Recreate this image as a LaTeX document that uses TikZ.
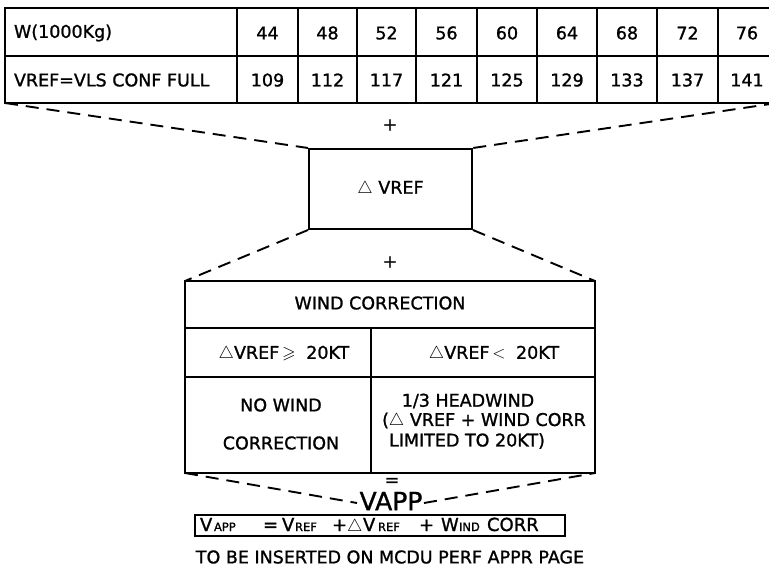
\documentclass[tikz,border=0pt]{standalone}
\usepackage{amssymb}
\usepackage{fontspec}
\setmainfont[FakeBold=1.2]{DejaVu Sans}
\begin{document}
\begin{tikzpicture}[x=1pt,y=-1pt,line width=2pt,
  txt/.style={font=\fontsize{17.5}{20}\selectfont,inner sep=0pt},
  big/.style={font=\fontsize{18}{20}\selectfont,inner sep=0pt,anchor=base west},
  sml/.style={font=\fontsize{11.5}{13}\selectfont,inner sep=0pt,anchor=base west},
  dsh/.style={dash pattern=on 13pt off 8pt,line width=1.9pt}]
\useasboundingbox (0,0) rectangle (769,582);
\begin{scope}
\clip (0,0) rectangle (769,582);
% top table
\coordinate (tbl-nw) at (5,8);
\coordinate (tbl-sw) at (5,103);
\coordinate (tbl-se) at (777,103);
\draw (tbl-nw) rectangle (tbl-se);
\draw (5,56) -- (777,56);
\foreach \x in {237,298,357,416,477,537,597,657,718} \draw (\x,8) -- (\x,103);
\node[txt,anchor=west] (h1) at (13,33) {W(1000Kg)};
\node[txt,anchor=west] (h2) at (13,80) {VREF=VLS CONF FULL};
\foreach \c/\a/\b [count=\i] in {267.5/44/109,327.5/48/112,386.5/52/117,446.5/56/121,507/60/125,567/64/129,627/68/133,687.5/72/137,747/76/141}{
  \node[txt] (w\i) at (\c,33) {\a};
  \node[txt] (v\i) at (\c,80) {\b};
}
% delta vref box
\node[draw,minimum width=163pt,minimum height=80pt,txt] (dv) at (390.5,189) {$\triangle$ VREF};
\node[txt] (plus1) at (390,125) {+};
\node[txt] (plus2) at (390,262) {+};
\draw[dsh] (tbl-sw) -- (dv.north west);
\draw[dsh] (tbl-se) -- (dv.north east);
% wind table
\coordinate (wt-nw) at (185,281);
\coordinate (wt-ne) at (595,281);
\coordinate (wt-sw) at (185,473);
\coordinate (wt-se) at (595,473);
\draw (wt-nw) rectangle (wt-se);
\draw (185,328) -- (595,328);
\draw (185,377) -- (595,377);
\draw (371,328) -- (371,473);
\draw[dsh] (dv.south west) -- (wt-nw);
\draw[dsh] (dv.south east) -- (wt-ne);
\node[txt] (wc) at (380,303) {WIND CORRECTION};
\node[txt] (c1) at (284,354) {$\triangle$VREF\,$\geqslant$\; 20KT};
\node[txt] (c2) at (494,354) {$\triangle$VREF\,$<$\; 20KT};
\node[txt] (n1) at (281,405) {NO WIND};
\node[txt] (n2) at (281,443) {CORRECTION};
\node[txt] (r1) at (468,401) {1/3 HEADWIND};
\node[txt] (r2) at (484,421) {($\triangle$ VREF + WIND CORR};
\node[txt] (r3) at (467,441) {LIMITED TO 20KT)};
% result
\node[txt] (eq) at (392,482) {=};
\node[font=\fontsize{25}{28}\selectfont,inner sep=0pt] (vapp) at (391,501) {VAPP};
\coordinate (vapp-l) at (357,503);
\coordinate (vapp-r) at (424,503);
\draw[dsh] (wt-sw) -- (vapp-l);
\draw[dsh] (vapp-r) -- (wt-se);
% formula
\draw (195,515) rectangle (565,536);
\node[big] (f1) at (199,531) {V};
\node[sml] (f2) at (213,531) {APP};
\node[big] (f3) at (262,531) {=};
\node[big] (f4) at (281,531) {V};
\node[sml] (f5) at (294,531) {REF};
\node[big] (f6) at (331,531) {+};
\node[font=\fontsize{16}{18}\selectfont,inner sep=0pt,anchor=base west] (f7) at (346,531) {$\triangle$};
\node[big] (f7b) at (362,531) {V};
\node[sml] (f8) at (377,531) {REF};
\node[big] (f9) at (418,531) {+};
\node[big] (f10) at (440,531) {W};
\node[sml] (f11) at (458,531) {IND};
\node[big] (f12) at (486,531) {CORR};
\node[txt] (note) at (390,557) {TO BE INSERTED ON MCDU PERF APPR PAGE};
\end{scope}
\end{tikzpicture}
\end{document}
